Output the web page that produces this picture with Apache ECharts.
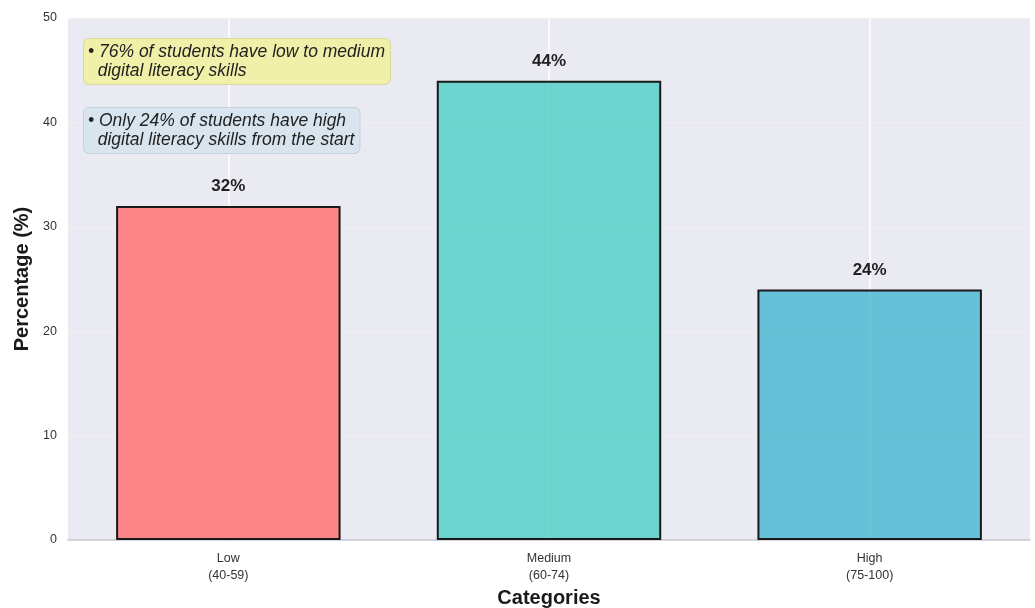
<!DOCTYPE html>
<html>
<head>
<meta charset="utf-8">
<script src="https://cdn.jsdelivr.net/npm/echarts@6/dist/echarts.min.js"></script>
<style>html,body{margin:0;padding:0;background:#fff;overflow:hidden}#c{width:1035px;height:608px}</style>
</head>
<body>
<div id="c"></div>
<script>
const categories = ['Low\n(40-59)', 'Medium\n(60-74)', 'High\n(75-100)'];
const values = [32, 44, 24];
const barColors = ['rgba(255,107,107,0.8)', 'rgba(78,205,196,0.8)', 'rgba(69,183,209,0.8)'];
const yTicks = [0, 10, 20, 30, 40, 50];
const notes = [
  '• 76% of students have low to medium\n  digital literacy skills',
  '• Only 24% of students have high\n  digital literacy skills from the start'
];

const chart = echarts.init(document.getElementById('c'), null, {renderer: 'canvas'});
const font = "'Liberation Sans', Arial, sans-serif";
chart.setOption({
  animation: false,
  textStyle: {fontFamily: font},
  grid: {left: 68, right: 5, top: 18, bottom: 68, show: true, backgroundColor: '#EAEAF2', borderWidth: 0,
         containLabel: false, outerBoundsMode: 'none'},
  xAxis: {
    type: 'category',
    data: categories,
    name: 'Categories',
    nameLocation: 'middle',
    nameGap: 47,
    nameTextStyle: {fontSize: 20, fontWeight: 'bold', color: '#1a1a1a', fontFamily: font},
    axisLine: {show: true, lineStyle: {color: '#C8C8D6', width: 1.5}},
    axisTick: {show: false},
    axisLabel: {fontSize: 12.5, color: '#333', lineHeight: 17, margin: 10, fontFamily: font},
    splitLine: {show: false}
  },
  yAxis: {
    type: 'value',
    min: yTicks[0],
    max: yTicks[yTicks.length - 1],
    interval: 10,
    name: 'Percentage (%)',
    nameLocation: 'middle',
    nameGap: 31,
    nameTextStyle: {fontSize: 20, fontWeight: 'bold', color: '#1a1a1a', fontFamily: font},
    axisLine: {show: false},
    axisTick: {show: false},
    axisLabel: {fontSize: 12.5, color: '#333', margin: 11, fontFamily: font},
    splitLine: {show: true, lineStyle: {color: 'rgba(255,255,255,0.25)', width: 1}}
  },
  series: [
    {
      type: 'scatter',
      data: [],
      z: 0,
      silent: true,
      markLine: {
        z: 0,
        silent: true,
        symbol: 'none',
        label: {show: false},
        lineStyle: {color: '#ffffff', width: 1.5, type: 'solid', opacity: 1},
        data: categories.map(c => ({xAxis: c}))
      }
    },
    {
      type: 'bar',
      z: 10,
      barWidth: '70%',
      data: values.map((v, i) => ({
        value: v,
        itemStyle: {color: barColors[i], borderColor: '#1a1a1a', borderWidth: 2}
      })),
      label: {
        show: true,
        position: 'top',
        distance: 11,
        formatter: p => p.value + '%',
        fontSize: 17,
        fontWeight: 'bold',
        color: '#222',
        fontFamily: font
      }
    }
  ],
  graphic: [
    {
      type: 'text',
      left: 83,
      top: 38,
      z: 100,
      style: {
        text: notes[0],
        font: "italic 17.5px " + font,
        fill: '#222',
        lineHeight: 19,
        backgroundColor: '#F0F0A9',
        borderColor: '#D9D99E',
        borderWidth: 1,
        borderRadius: 5,
        padding: [4, 5, 3, 4]
      }
    },
    {
      type: 'text',
      left: 83,
      top: 107,
      z: 100,
      style: {
        text: notes[1],
        font: "italic 17.5px " + font,
        fill: '#222',
        lineHeight: 19,
        backgroundColor: '#D8E5EE',
        borderColor: '#C2D3DE',
        borderWidth: 1,
        borderRadius: 5,
        padding: [4, 5, 3, 4]
      }
    }
  ]
});
</script>
</body>
</html>
